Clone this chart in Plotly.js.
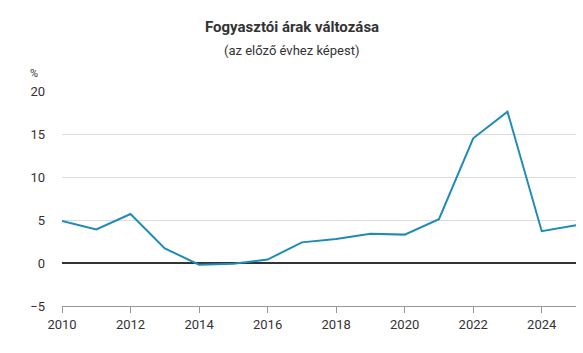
<!DOCTYPE html>
<html><head><meta charset="utf-8">
<script src="https://cdn.plot.ly/plotly-3.0.1.min.js"></script>
<style>body{margin:0;background:#fff}#c{width:583px;height:353px}</style>
</head><body><div id="c"></div>
<script>
const years = [2010,2011,2012,2013,2014,2015,2016,2017,2018,2019,2020,2021,2022,2023,2024,2025];
const cpi = [4.9,3.9,5.7,1.7,-0.2,-0.1,0.4,2.4,2.8,3.4,3.3,5.1,14.5,17.6,3.7,4.4];
const xTicks = [2010,2012,2014,2016,2018,2020,2022,2024];
const yTicks = [-5,0,5,10,15,20];
const yTickText = ['\u22125','0','5','10','15','20'];

Plotly.newPlot('c', [{
  x: years, y: cpi, type: 'scatter', mode: 'lines',
  line: {color: '#1f8bb6', width: 2}, hoverinfo: 'x+y'
}], {
  width: 583, height: 353,
  margin: {l: 62, r: 7, t: 91, b: 46.5},
  paper_bgcolor: '#fff', plot_bgcolor: '#fff',
  font: {family: 'Roboto, sans-serif', color: '#333', size: 13},
  showlegend: false,
  xaxis: {
    range: [2010, 2025], tickvals: xTicks, ticktext: xTicks.map(String),
    showgrid: false, zeroline: false, showline: true, linecolor: '#999', linewidth: 1,
    ticks: 'outside', ticklen: 6, tickcolor: '#999', tickfont: {size: 13, color: '#333'}
  },
  yaxis: {
    range: [-5, 20], tickvals: yTicks, ticktext: yTickText,
    showgrid: true, gridcolor: '#dcdcdc', gridwidth: 1,
    zeroline: true, zerolinecolor: '#333', zerolinewidth: 1.2,
    showline: false, ticks: '', ticklabelstandoff: 16, tickfont: {size: 13, color: '#333'}
  },
  annotations: [
    {text: '<b>Fogyasztói árak változása</b>', xref: 'paper', yref: 'paper', x: 0.5, y: 0, xanchor: 'center', yanchor: 'middle',
     showarrow: false, font: {size: 15, color: '#333'}},
    {text: '(az előző évhez képest)', xref: 'paper', yref: 'paper', x: 0.5, y: 0, xanchor: 'center', yanchor: 'middle',
     showarrow: false, font: {size: 13, color: '#333'}},
    {text: '%', xref: 'paper', yref: 'paper', x: 0, y: 1, xanchor: 'right', yanchor: 'middle',
     showarrow: false, font: {size: 11, color: '#333'}}
  ]
}, {displayModeBar: false, staticPlot: true}).then(gd => {
  const h = 353 - 91 - 46.5;
  const w = 583 - 62 - 7;
  const toY = py => (353 - 46.5 - py) / h;
  const toX = px => (px - 62) / w;
  Plotly.relayout(gd, {
    'annotations[0].y': toY(27), 'annotations[0].x': toX(291.5),
    'annotations[1].y': toY(50), 'annotations[1].x': toX(291.5),
    'annotations[2].y': toY(73), 'annotations[2].x': toX(40)
  });
});
</script></body></html>
